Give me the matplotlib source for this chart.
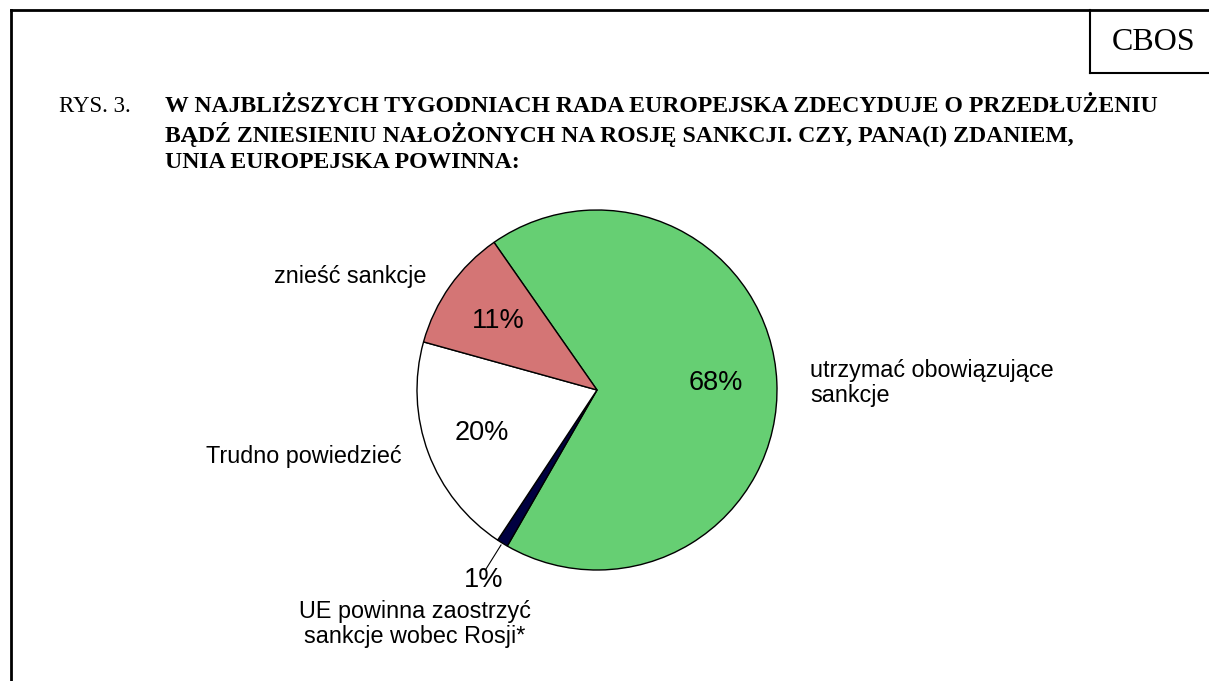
import matplotlib
matplotlib.use("Agg")
import matplotlib.pyplot as plt
from matplotlib.lines import Line2D

# ---- data ----
categories = ["utrzymać obowiązujące\nsankcje",
              "UE powinna zaostrzyć\nsankcje wobec Rosji*",
              "Trudno powiedzieć",
              "znieść sankcje"]
values = [68, 1, 20, 11]
pct_labels = ["68%", "1%", "20%", "11%"]
colors = ["#66CF73", "#000040", "#FFFFFF", "#D47575"]

title_lines = ["W NAJBLIŻSZYCH TYGODNIACH RADA EUROPEJSKA ZDECYDUJE O PRZEDŁUŻENIU",
               "BĄDŹ ZNIESIENIU NAŁOŻONYCH NA ROSJĘ SANKCJI. CZY, PANA(I) ZDANIEM,",
               "UNIA EUROPEJSKA POWINNA:"]

W, H = 1209, 681
fig = plt.figure(figsize=(W / 100, H / 100), dpi=100)
ax = fig.add_axes([0, 0, 1, 1])
ax.set_xlim(0, W)
ax.set_ylim(0, H)
ax.set_aspect("equal")
ax.axis("off")

def Y(y):  # convert from top-origin pixel to data
    return H - y

cx, cy, r = 597, 390, 180
ax.pie(values, colors=colors, startangle=124.9, counterclock=False,
       center=(cx, Y(cy)), radius=r,
       wedgeprops=dict(edgecolor="black", linewidth=1.0))
ax.set_xlim(0, W)
ax.set_ylim(0, H)

# frame
fig.add_artist(Line2D([11 / W, 11 / W], [0, 1 - 10 / H], transform=fig.transFigure, color="black", lw=2))
fig.add_artist(Line2D([11 / W, 1], [1 - 10 / H, 1 - 10 / H], transform=fig.transFigure, color="black", lw=2))
# CBOS box
fig.add_artist(Line2D([1090 / W, 1090 / W], [1 - 10 / H, 1 - 73 / H], transform=fig.transFigure, color="black", lw=1.5))
fig.add_artist(Line2D([1090 / W, 1], [1 - 73 / H, 1 - 73 / H], transform=fig.transFigure, color="black", lw=1.5))
ax.text(1154, Y(42), "CBOS", fontfamily="Liberation Serif", fontsize=23, ha="center", va="center")

# title
ax.text(59, Y(106), "RYS. 3.", fontfamily="Liberation Serif", fontsize=16.5, ha="left", va="center")
for i, line in enumerate(title_lines):
    ax.text(165, Y(106 + i * 28.5), line, fontfamily="Liberation Serif", fontsize=17.1,
            fontweight="bold", ha="left", va="center")

sans = "Liberation Sans"
# percentage labels
pct_pos = [(716, 383), (484, 580), (482, 433), (498, 321)]
for (px, py), t in zip(pct_pos, pct_labels):
    ax.text(px, Y(py), t, fontfamily=sans, fontsize=19.5, ha="center", va="center")

# category labels
ax.text(810, Y(383), categories[0], fontfamily=sans, fontsize=16.8, ha="left", va="center",
        linespacing=1.15)
ax.text(415, Y(624), categories[1], fontfamily=sans, fontsize=16.8, ha="center", va="center",
        linespacing=1.15)
ax.text(304, Y(456), categories[2], fontfamily=sans, fontsize=16.8, ha="center", va="center")
ax.text(350, Y(277), categories[3], fontfamily=sans, fontsize=16.8, ha="center", va="center")

# leader line for 1%
ax.plot([501, 486], [Y(545), Y(569)], color="black", lw=0.8)

fig.savefig("out.png", dpi=100, facecolor="white")
